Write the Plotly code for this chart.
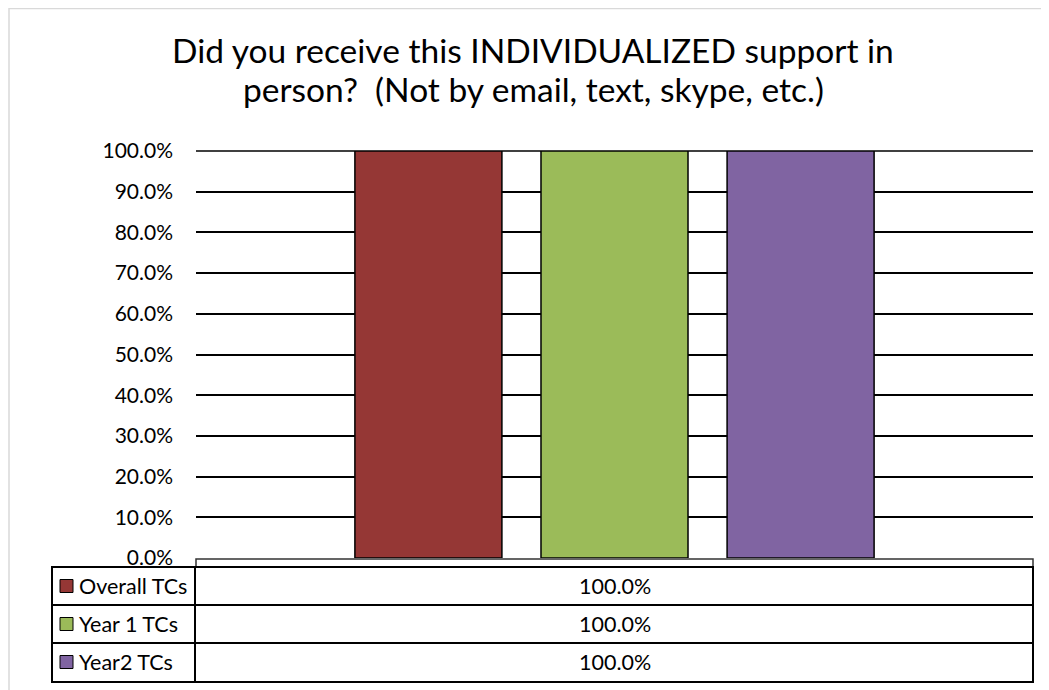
import plotly.graph_objects as go

# chart data
categories = [""]
series_names = ["Overall TCs", "Year 1 TCs", "Year2 TCs"]
series_values = [[1.0], [1.0], [1.0]]
series_colors = ["#953735", "#9BBB59", "#8064A2"]
y_ticks = [0, 0.1, 0.2, 0.3, 0.4, 0.5, 0.6, 0.7, 0.8, 0.9, 1.0]

title_lines = ["Did you receive this INDIVIDUALIZED support in",
               "person?  (Not by email, text, skype, etc.)"]

OFF = 8                      # page body margin
W, H = 1049 - OFF, 690 - OFF
PL, PR, PT, PB = 196 - OFF, 1033 - OFF, 151 - OFF, 558 - OFF   # plot area
FONT = "Lato"


def px(x):
    """page pixel x -> paper x"""
    return (x - OFF - PL) / (PR - PL)


def py(y):
    """page pixel y -> paper y"""
    return (PB - (y - OFF)) / (PB - PT)


fig = go.Figure()
for name, vals, col in zip(series_names, series_values, series_colors):
    fig.add_trace(go.Bar(x=categories, y=vals, name=name,
                         marker=dict(color=col, line=dict(color="black", width=1.5))))

shapes = []
# outer chart border
shapes.append(dict(type="rect", xref="paper", yref="paper",
                   x0=px(9), x1=px(1070), y0=py(8.5), y1=py(710),
                   line=dict(color="#d9d9d9", width=1.5), layer="below"))
# top gridline (plotly skips the one on the range edge)
shapes.append(dict(type="line", xref="paper", yref="paper",
                   x0=0, x1=1, y0=1, y1=1,
                   line=dict(color="black", width=1.5), layer="below"))
# category header row of the data table
shapes.append(dict(type="rect", xref="paper", yref="paper",
                   x0=px(196), x1=px(1033), y0=py(559), y1=py(567),
                   line=dict(color="#333", width=1.5)))
# data table body
row_tops = [567, 605, 643]
row_h = 38
shapes.append(dict(type="rect", xref="paper", yref="paper",
                   x0=px(52), x1=px(1033), y0=py(567), y1=py(682),
                   line=dict(color="black", width=2)))
for yy in row_tops[1:]:
    shapes.append(dict(type="line", xref="paper", yref="paper",
                       x0=px(52), x1=px(1033), y0=py(yy), y1=py(yy),
                       line=dict(color="black", width=2)))
shapes.append(dict(type="line", xref="paper", yref="paper",
                   x0=px(195), x1=px(195), y0=py(567), y1=py(682),
                   line=dict(color="black", width=2)))

annotations = []
# title, one annotation per line to get Excel's tighter line spacing
for yy, line in zip([50, 89], title_lines):
    annotations.append(dict(xref="paper", yref="paper", x=px(533), y=py(yy),
                            text=line, showarrow=False, xanchor="center", yanchor="middle",
                            font=dict(family=FONT, size=33.5, color="black")))

for i, (name, vals, col) in enumerate(zip(series_names, series_values, series_colors)):
    yc = row_tops[i] + row_h / 2
    # legend key
    shapes.append(dict(type="rect", xref="paper", yref="paper",
                       x0=px(60), x1=px(73), y0=py(yc - 6.5), y1=py(yc + 6.5),
                       fillcolor=col, line=dict(color="black", width=1)))
    annotations.append(dict(xref="paper", yref="paper", x=px(77), y=py(yc),
                            text=name, showarrow=False, xanchor="left", yanchor="middle",
                            font=dict(family=FONT, size=21.5, color="black")))
    annotations.append(dict(xref="paper", yref="paper", x=px(614.5), y=py(yc),
                            text=f"{vals[0] * 100:.1f}%", showarrow=False,
                            xanchor="center", yanchor="middle",
                            font=dict(family=FONT, size=21.5, color="black")))

fig.update_layout(
    width=W, height=H,
    margin=dict(l=PL, r=W - PR, t=PT, b=H - PB),
    paper_bgcolor="white", plot_bgcolor="white",
    barmode="group", bargap=0.333, bargroupgap=0.21,
    showlegend=False,
    xaxis=dict(showticklabels=False, showline=False, showgrid=False, zeroline=False),
    yaxis=dict(range=[0, 1], tickvals=y_ticks, tickformat=".1%",
               showgrid=True, gridcolor="black", gridwidth=1.5,
               zeroline=False, showline=False, ticks="", ticklabelstandoff=22,
               tickfont=dict(family=FONT, size=21, color="black")),
    shapes=shapes, annotations=annotations,
)

fig.write_html("out.html")
